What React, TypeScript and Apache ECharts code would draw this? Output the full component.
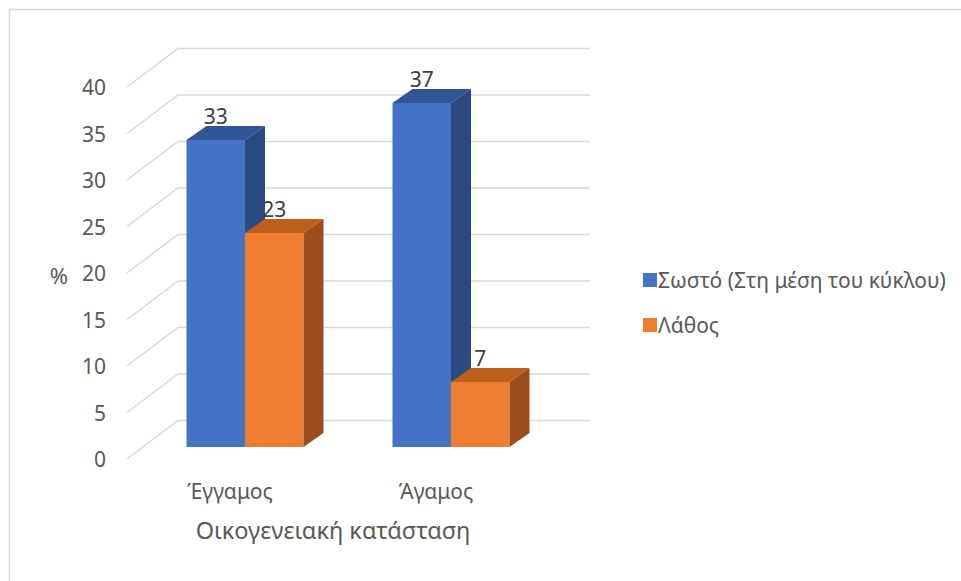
import React, { useEffect, useRef } from "react";
import * as echarts from "echarts";

const categories = ["Έγγαμος", "Άγαμος"];
const seriesNames = ["Σωστό (Στη μέση του κύκλου)", "Λάθος"];
const correctValues = [33, 37];
const wrongValues = [23, 7];
const yTicks = [0, 5, 10, 15, 20, 25, 30, 35, 40];
const xAxisTitle = "Οικογενειακή κατάσταση";
const yAxisTitle = "%";

const FONT = "Noto Sans";
const WALL_DX = 51;
const WALL_DY = -38.5;
const BAR_DX0 = 15;
const BAR_DY0 = -12;
const BAR_DEPTH_X = 20;
const BAR_DEPTH_Y = -14;

const palettes = [
  { front: "#4472C4", top: "#2F5597", side: "#2B4A82" },
  { front: "#ED7D31", top: "#BF5F1D", side: "#9A4E1C" },
];

function makeBarRender(idx: number) {
  const pal = palettes[idx];
  return (params: any, api: any) => {
    const cat = api.value(0);
    const v = api.value(1);
    const base = api.coord([cat, 0]);
    const tp = api.coord([cat, v]);
    const bw = api.size([1, 0])[0] * 0.284;
    const cx = base[0] + BAR_DX0;
    const x0 = idx === 0 ? cx - bw : cx;
    const x1 = x0 + bw;
    const yb = base[1] + BAR_DY0;
    const yt = tp[1] + BAR_DY0;
    return {
      type: "group",
      children: [
        {
          type: "rect",
          shape: { x: x0, y: yt, width: bw, height: yb - yt },
          style: { fill: pal.front },
        },
        {
          type: "polygon",
          shape: {
            points: [
              [x0, yt],
              [x1, yt],
              [x1 + BAR_DEPTH_X, yt + BAR_DEPTH_Y],
              [x0 + BAR_DEPTH_X, yt + BAR_DEPTH_Y],
            ],
          },
          style: { fill: pal.top },
        },
        {
          type: "polygon",
          shape: {
            points: [
              [x1, yt],
              [x1, yb],
              [x1 + BAR_DEPTH_X, yb + BAR_DEPTH_Y],
              [x1 + BAR_DEPTH_X, yt + BAR_DEPTH_Y],
            ],
          },
          style: { fill: pal.side },
        },
        {
          type: "text",
          style: {
            text: String(v),
            x: (x0 + x1) / 2,
            y: yt - 24,
            align: "center",
            verticalAlign: "middle",
            fill: "#404040",
            fontSize: 21,
            fontFamily: FONT,
          },
        },
      ],
    };
  };
}

export default function App() {
  const ref = useRef<HTMLDivElement>(null);
  useEffect(() => {
    if (!ref.current) return;
    const chart = echarts.init(ref.current, undefined, { renderer: "svg" });
    chart.setOption({
      animation: false,
      backgroundColor: "#ffffff",
      textStyle: { fontFamily: FONT },
      grid: { left: 127, top: 87, width: 412, height: 372 },
      legend: {
        orient: "vertical",
        left: 638,
        top: 263,
        icon: "rect",
        itemWidth: 14,
        itemHeight: 14,
        itemGap: 21,
        data: seriesNames,
        textStyle: { color: "#595959", fontSize: 21, fontFamily: FONT, lineHeight: 24, padding: [0, 0, 0, -4] },
      },
      xAxis: {
        type: "category",
        data: categories,
        axisLine: { show: false },
        axisTick: { show: false },
        splitLine: { show: false },
        axisLabel: { color: "#595959", fontSize: 21, fontFamily: FONT, margin: 21 },
      },
      yAxis: {
        type: "value",
        min: 0,
        max: 40,
        interval: 5,
        axisLine: { show: false },
        axisTick: { show: false },
        splitLine: { show: false },
        axisLabel: { color: "#595959", fontSize: 21, fontFamily: FONT, margin: 21 },
      },
      graphic: [
        {
          type: "rect",
          shape: { x: 9.5, y: 9.5, width: 1200, height: 1200 },
          style: { fill: "none", stroke: "#D9D9D9", lineWidth: 1.5 },
          silent: true,
        },
        {
          type: "text",
          style: {
            text: yAxisTitle,
            x: 59,
            y: 275,
            align: "center",
            verticalAlign: "middle",
            fill: "#595959",
            fontSize: 22,
            fontFamily: FONT,
          },
        },
        {
          type: "text",
          style: {
            text: xAxisTitle,
            x: 333,
            y: 530,
            align: "center",
            verticalAlign: "middle",
            fill: "#595959",
            fontSize: 23.5,
            fontFamily: FONT,
          },
        },
      ],
      series: [
        {
          type: "custom",
          name: "walls",
          z: 1,
          clip: false,
          silent: true,
          encode: { x: 0, y: 1 },
          data: yTicks.map((t) => [0, t]),
          renderItem: (params: any, api: any) => {
            const cs = params.coordSys;
            const y = api.coord([0, api.value(1)])[1];
            const x0 = cs.x;
            const x1 = cs.x + cs.width;
            const lineStyle = { stroke: "#D9D9D9", lineWidth: 1.5, fill: "none" };
            return {
              type: "group",
              children: [
                {
                  type: "polyline",
                  shape: {
                    points: [
                      [x0, y],
                      [x0 + WALL_DX, y + WALL_DY],
                      [x1 + WALL_DX, y + WALL_DY],
                    ],
                  },
                  style: lineStyle,
                },
              ],
            };
          },
        },
        {
          type: "custom",
          name: seriesNames[0],
          z: 2,
          clip: false,
          itemStyle: { color: palettes[0].front },
          encode: { x: 0, y: 1 },
          data: correctValues.map((v, i) => [i, v]),
          renderItem: makeBarRender(0),
        },
        {
          type: "custom",
          name: seriesNames[1],
          z: 2,
          clip: false,
          itemStyle: { color: palettes[1].front },
          encode: { x: 0, y: 1 },
          data: wrongValues.map((v, i) => [i, v]),
          renderItem: makeBarRender(1),
        },
      ],
    });
    return () => chart.dispose();
  }, []);
  return (
    <div
      ref={ref}
      style={{ position: "fixed", left: 0, top: 0, width: 961, height: 581 }}
    />
  );
}
